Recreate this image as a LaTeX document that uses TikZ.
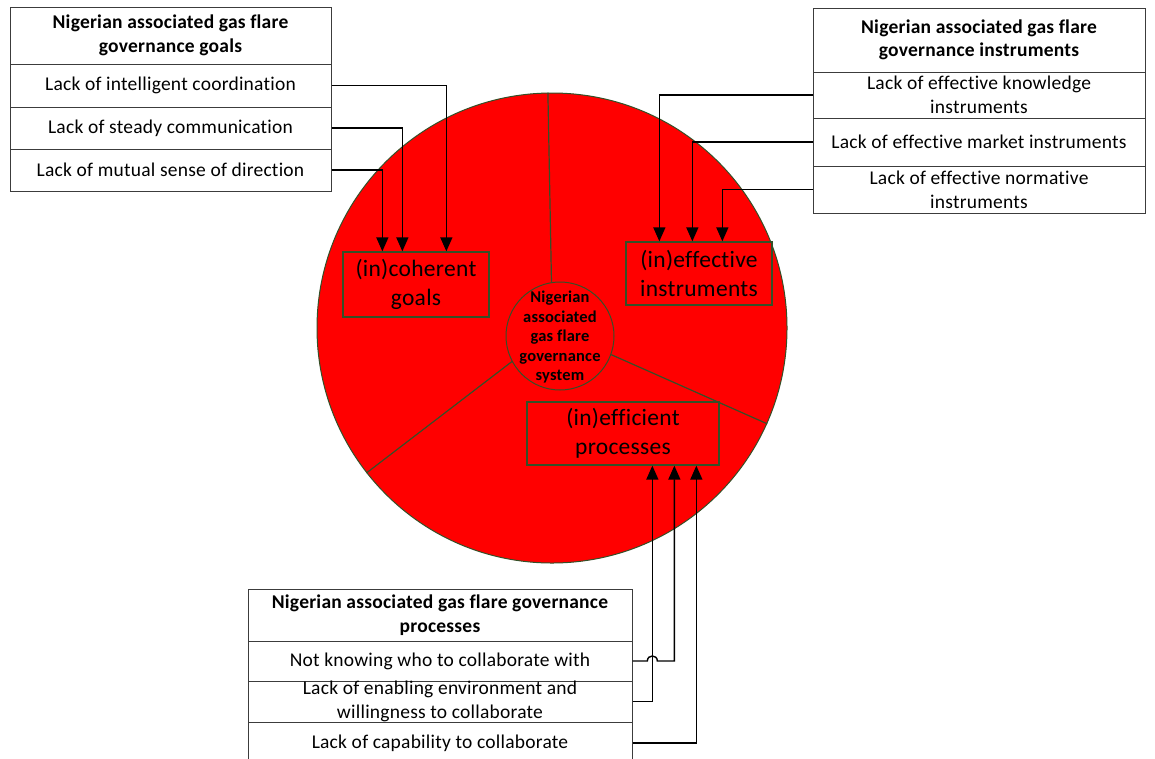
\documentclass[tikz,border=0pt]{standalone}
\usepackage{fontspec}
\setmainfont{Carlito}[Ligatures={NoCommon}, LetterSpace=1.2]
\usetikzlibrary{arrows.meta,calc}
\definecolor{flare}{RGB}{255,0,0}
\definecolor{rim}{RGB}{52,80,40}
\definecolor{rule}{RGB}{60,60,60}
\begin{document}
\begin{tikzpicture}[x=1pt,y=-1pt,
  cell/.style={draw=rule, line width=1pt, rectangle, inner sep=0pt, align=center,
    font=\fontsize{19.5}{24}\selectfont},
  head/.style={cell, font=\bfseries\fontsize{19.5}{23.5}\selectfont},
  part/.style={draw=rim, line width=1.3pt, fill=flare, rectangle, inner sep=0pt, align=center,
    font=\fontsize{23.5}{29.5}\selectfont},
  conn/.style={line width=1.4pt, -{Triangle[length=14pt,width=12pt]}},
  spoke/.style={draw=rim, line width=1.2pt}]
\useasboundingbox (0,0) rectangle (1155,758);
\clip (0,0) rectangle (1155,758);
\fill[white] (0,0) rectangle (1155,758);

% the governance system disc and its hub
\node[circle, draw=rim, line width=1pt, fill=flare, inner sep=0pt, minimum size=470pt] (disc) at (552,328) {};
\node[circle, draw=rim, line width=1pt, fill=flare, inner sep=0pt, minimum size=108pt] (hub) at (560,336) {};
\node[align=center, inner sep=0pt, font=\bfseries\fontsize{16.5}{19.5}\selectfont] (hubtext) at (560,337)
  {Nigerian\\associated\\gas flare\\governance\\system};

% spokes dividing the disc into three sectors
\draw[spoke] (hub.99.5) -- (disc.91.5);
\draw[spoke] (hub.208.4) -- (disc.218);
\draw[spoke] (hub.340.3) -- (disc.336.5);

% the three sector labels
\node[part, minimum width=146pt, minimum height=65pt] (goals) at (416,284.5) {(in)coherent\\goals};
\node[part, minimum width=146pt, minimum height=63pt] (instr) at (699,273.5) {(in)effective\\instruments};
\node[part, minimum width=192pt, minimum height=63pt] (proc) at (623,433.5) {(in)efficient\\processes};

% goals table
\node[head, minimum width=321pt, minimum height=57pt] (gh) at (170.5,35.5) {Nigerian associated gas flare\\governance goals};
\node[cell, minimum width=321pt, minimum height=43pt] (g1) at (170.5,85.5) {Lack of intelligent coordination};
\node[cell, minimum width=321pt, minimum height=42pt] (g2) at (170.5,128) {Lack of steady communication};
\node[cell, minimum width=321pt, minimum height=42pt] (g3) at (170.5,170) {Lack of mutual sense of direction};

% instruments table
\node[head, minimum width=332pt, minimum height=64pt] (ih) at (979,40) {Nigerian associated gas flare\\governance instruments};
\node[cell, minimum width=332pt, minimum height=46pt] (i1) at (979,95) {Lack of effective knowledge\\instruments};
\node[cell, minimum width=332pt, minimum height=48pt] (i2) at (979,142) {Lack of effective market instruments};
\node[cell, minimum width=332pt, minimum height=47pt] (i3) at (979,189.5) {Lack of effective normative\\instruments};

% processes table
\node[head, minimum width=384pt, minimum height=52pt] (ph) at (440,615) {Nigerian associated gas flare governance\\processes};
\node[cell, minimum width=384pt, minimum height=40pt] (p1) at (440,661) {Not knowing who to collaborate with};
\node[cell, minimum width=384pt, minimum height=41pt] (p2) at (440,701.5) {Lack of enabling environment and\\willingness to collaborate};
\node[cell, minimum width=384pt, minimum height=42pt] (p3) at (440,743) {Lack of capability to collaborate};

% goal connectors
\draw[conn] (g1.east) -| ([xshift=104pt]goals.north west);
\draw[conn] (g2.east) -| ([xshift=60pt]goals.north west);
\draw[conn] (g3.east) -| ([xshift=40pt]goals.north west);

% instrument connectors
\draw[conn] (i1.west) -| ([xshift=34pt]instr.north west);
\draw[conn] (i2.west) -| ([xshift=67pt]instr.north west);
\draw[conn] (i3.west) -| ([xshift=97pt]instr.north west);

% process connectors, the first one hopping over the second
\coordinate (pa) at ([xshift=126pt]proc.south west);
\coordinate (pb) at ([xshift=148pt]proc.south west);
\coordinate (pc) at ([xshift=170pt]proc.south west);
\coordinate (hop) at (p1.east -| pa);
\draw[conn] (p2.east) -| (pa);
\draw[conn] (p3.east) -| (pc);
\draw[conn] (p1.east) -- ($(hop)+(-5,0)$)
  .. controls ($(hop)+(-5,-6.7)$) and ($(hop)+(5,-6.7)$) .. ($(hop)+(5,0)$)
  -- (p1.east -| pb) -- (pb);
\end{tikzpicture}
\end{document}
